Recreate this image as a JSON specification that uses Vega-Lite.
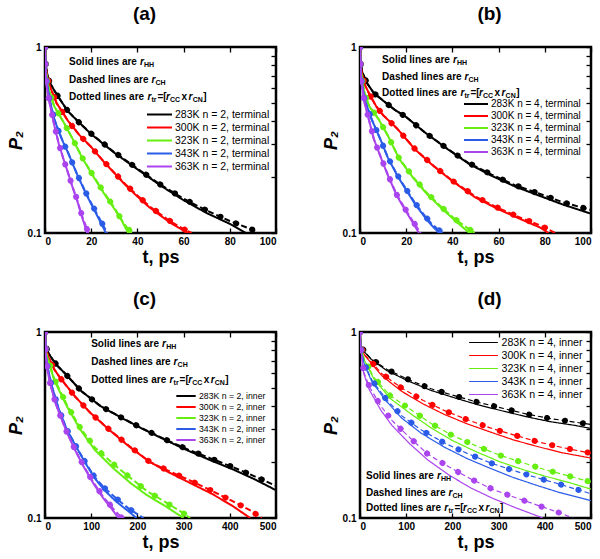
{
  "$schema": "https://vega.github.io/schema/vega-lite/v6.json",
  "padding": {"left": 5, "top": 3, "right": 5, "bottom": 2},
  "datasets": {
    "curves": [
      {"p":"a","T":"283K","s":"solid","t":0,"P":1},{"p":"a","T":"283K","s":"solid","t":0.3,"P":0.8},{"p":"a","T":"283K","s":"solid","t":1,"P":0.71},{"p":"a","T":"283K","s":"solid","t":2,"P":0.645},{"p":"a","T":"283K","s":"solid","t":5,"P":0.557},{"p":"a","T":"283K","s":"solid","t":10,"P":0.45},{"p":"a","T":"283K","s":"solid","t":15,"P":0.39},{"p":"a","T":"283K","s":"solid","t":20,"P":0.34},{"p":"a","T":"283K","s":"solid","t":30,"P":0.27},{"p":"a","T":"283K","s":"solid","t":40,"P":0.22},{"p":"a","T":"283K","s":"solid","t":50,"P":0.18},{"p":"a","T":"283K","s":"solid","t":60,"P":0.15},{"p":"a","T":"283K","s":"solid","t":70,"P":0.128},{"p":"a","T":"283K","s":"solid","t":80,"P":0.112},{"p":"a","T":"283K","s":"solid","t":87,"P":0.1},
      {"p":"a","T":"283K","s":"dashed","t":0,"P":1},{"p":"a","T":"283K","s":"dashed","t":0.3,"P":0.8},{"p":"a","T":"283K","s":"dashed","t":1,"P":0.71},{"p":"a","T":"283K","s":"dashed","t":2,"P":0.645},{"p":"a","T":"283K","s":"dashed","t":5,"P":0.557},{"p":"a","T":"283K","s":"dashed","t":10,"P":0.45},{"p":"a","T":"283K","s":"dashed","t":15,"P":0.39},{"p":"a","T":"283K","s":"dashed","t":20,"P":0.342},{"p":"a","T":"283K","s":"dashed","t":30,"P":0.272},{"p":"a","T":"283K","s":"dashed","t":40,"P":0.222},{"p":"a","T":"283K","s":"dashed","t":50,"P":0.182},{"p":"a","T":"283K","s":"dashed","t":60,"P":0.153},{"p":"a","T":"283K","s":"dashed","t":70,"P":0.132},{"p":"a","T":"283K","s":"dashed","t":80,"P":0.116},{"p":"a","T":"283K","s":"dashed","t":90,"P":0.104},{"p":"a","T":"283K","s":"dashed","t":92,"P":0.1},
      {"p":"a","T":"300K","s":"solid","t":0,"P":1},{"p":"a","T":"300K","s":"solid","t":0.3,"P":0.78},{"p":"a","T":"300K","s":"solid","t":1,"P":0.69},{"p":"a","T":"300K","s":"solid","t":2,"P":0.62},{"p":"a","T":"300K","s":"solid","t":5,"P":0.5},{"p":"a","T":"300K","s":"solid","t":10,"P":0.4},{"p":"a","T":"300K","s":"solid","t":15,"P":0.335},{"p":"a","T":"300K","s":"solid","t":20,"P":0.29},{"p":"a","T":"300K","s":"solid","t":25,"P":0.245},{"p":"a","T":"300K","s":"solid","t":30,"P":0.21},{"p":"a","T":"300K","s":"solid","t":35,"P":0.18},{"p":"a","T":"300K","s":"solid","t":40,"P":0.157},{"p":"a","T":"300K","s":"solid","t":45,"P":0.138},{"p":"a","T":"300K","s":"solid","t":50,"P":0.124},{"p":"a","T":"300K","s":"solid","t":55,"P":0.112},{"p":"a","T":"300K","s":"solid","t":62,"P":0.1},
      {"p":"a","T":"300K","s":"dashed","t":0,"P":1},{"p":"a","T":"300K","s":"dashed","t":0.3,"P":0.78},{"p":"a","T":"300K","s":"dashed","t":1,"P":0.69},{"p":"a","T":"300K","s":"dashed","t":2,"P":0.62},{"p":"a","T":"300K","s":"dashed","t":5,"P":0.5},{"p":"a","T":"300K","s":"dashed","t":10,"P":0.4},{"p":"a","T":"300K","s":"dashed","t":15,"P":0.335},{"p":"a","T":"300K","s":"dashed","t":20,"P":0.29},{"p":"a","T":"300K","s":"dashed","t":25,"P":0.246},{"p":"a","T":"300K","s":"dashed","t":30,"P":0.211},{"p":"a","T":"300K","s":"dashed","t":35,"P":0.182},{"p":"a","T":"300K","s":"dashed","t":40,"P":0.159},{"p":"a","T":"300K","s":"dashed","t":45,"P":0.14},{"p":"a","T":"300K","s":"dashed","t":50,"P":0.126},{"p":"a","T":"300K","s":"dashed","t":55,"P":0.114},{"p":"a","T":"300K","s":"dashed","t":60,"P":0.105},{"p":"a","T":"300K","s":"dashed","t":63.5,"P":0.1},
      {"p":"a","T":"323K","s":"solid","t":0,"P":1},{"p":"a","T":"323K","s":"solid","t":0.3,"P":0.76},{"p":"a","T":"323K","s":"solid","t":1,"P":0.65},{"p":"a","T":"323K","s":"solid","t":2,"P":0.57},{"p":"a","T":"323K","s":"solid","t":4,"P":0.48},{"p":"a","T":"323K","s":"solid","t":8,"P":0.395},{"p":"a","T":"323K","s":"solid","t":12,"P":0.32},{"p":"a","T":"323K","s":"solid","t":16,"P":0.255},{"p":"a","T":"323K","s":"solid","t":20,"P":0.21},{"p":"a","T":"323K","s":"solid","t":25,"P":0.167},{"p":"a","T":"323K","s":"solid","t":30,"P":0.135},{"p":"a","T":"323K","s":"solid","t":33,"P":0.118},{"p":"a","T":"323K","s":"solid","t":36,"P":0.1},
      {"p":"a","T":"323K","s":"dashed","t":0,"P":1},{"p":"a","T":"323K","s":"dashed","t":0.3,"P":0.76},{"p":"a","T":"323K","s":"dashed","t":1,"P":0.65},{"p":"a","T":"323K","s":"dashed","t":2,"P":0.57},{"p":"a","T":"323K","s":"dashed","t":4,"P":0.48},{"p":"a","T":"323K","s":"dashed","t":8,"P":0.395},{"p":"a","T":"323K","s":"dashed","t":12,"P":0.32},{"p":"a","T":"323K","s":"dashed","t":16,"P":0.256},{"p":"a","T":"323K","s":"dashed","t":20,"P":0.212},{"p":"a","T":"323K","s":"dashed","t":25,"P":0.169},{"p":"a","T":"323K","s":"dashed","t":30,"P":0.137},{"p":"a","T":"323K","s":"dashed","t":34,"P":0.113},{"p":"a","T":"323K","s":"dashed","t":37.5,"P":0.1},
      {"p":"a","T":"343K","s":"solid","t":0,"P":1},{"p":"a","T":"343K","s":"solid","t":0.3,"P":0.72},{"p":"a","T":"343K","s":"solid","t":1,"P":0.62},{"p":"a","T":"343K","s":"solid","t":2,"P":0.52},{"p":"a","T":"343K","s":"solid","t":4,"P":0.41},{"p":"a","T":"343K","s":"solid","t":6,"P":0.35},{"p":"a","T":"343K","s":"solid","t":8,"P":0.305},{"p":"a","T":"343K","s":"solid","t":10,"P":0.27},{"p":"a","T":"343K","s":"solid","t":14,"P":0.205},{"p":"a","T":"343K","s":"solid","t":18,"P":0.16},{"p":"a","T":"343K","s":"solid","t":22,"P":0.128},{"p":"a","T":"343K","s":"solid","t":26.4,"P":0.1},
      {"p":"a","T":"343K","s":"dashed","t":0,"P":1},{"p":"a","T":"343K","s":"dashed","t":0.3,"P":0.72},{"p":"a","T":"343K","s":"dashed","t":1,"P":0.62},{"p":"a","T":"343K","s":"dashed","t":2,"P":0.52},{"p":"a","T":"343K","s":"dashed","t":4,"P":0.41},{"p":"a","T":"343K","s":"dashed","t":6,"P":0.35},{"p":"a","T":"343K","s":"dashed","t":8,"P":0.305},{"p":"a","T":"343K","s":"dashed","t":10,"P":0.27},{"p":"a","T":"343K","s":"dashed","t":14,"P":0.206},{"p":"a","T":"343K","s":"dashed","t":18,"P":0.162},{"p":"a","T":"343K","s":"dashed","t":22,"P":0.13},{"p":"a","T":"343K","s":"dashed","t":27,"P":0.1},
      {"p":"a","T":"363K","s":"solid","t":0,"P":1},{"p":"a","T":"363K","s":"solid","t":0.3,"P":0.68},{"p":"a","T":"363K","s":"solid","t":1,"P":0.58},{"p":"a","T":"363K","s":"solid","t":2,"P":0.5},{"p":"a","T":"363K","s":"solid","t":4,"P":0.38},{"p":"a","T":"363K","s":"solid","t":6,"P":0.3},{"p":"a","T":"363K","s":"solid","t":8,"P":0.25},{"p":"a","T":"363K","s":"solid","t":10,"P":0.21},{"p":"a","T":"363K","s":"solid","t":12,"P":0.175},{"p":"a","T":"363K","s":"solid","t":14,"P":0.148},{"p":"a","T":"363K","s":"solid","t":16,"P":0.122},{"p":"a","T":"363K","s":"solid","t":18.3,"P":0.1},
      {"p":"a","T":"363K","s":"dashed","t":0,"P":1},{"p":"a","T":"363K","s":"dashed","t":0.3,"P":0.68},{"p":"a","T":"363K","s":"dashed","t":1,"P":0.58},{"p":"a","T":"363K","s":"dashed","t":2,"P":0.5},{"p":"a","T":"363K","s":"dashed","t":4,"P":0.38},{"p":"a","T":"363K","s":"dashed","t":6,"P":0.3},{"p":"a","T":"363K","s":"dashed","t":8,"P":0.25},{"p":"a","T":"363K","s":"dashed","t":10,"P":0.21},{"p":"a","T":"363K","s":"dashed","t":12,"P":0.176},{"p":"a","T":"363K","s":"dashed","t":14,"P":0.15},{"p":"a","T":"363K","s":"dashed","t":16,"P":0.124},{"p":"a","T":"363K","s":"dashed","t":18.8,"P":0.1},

      {"p":"b","T":"283K","s":"solid","t":0,"P":1},{"p":"b","T":"283K","s":"solid","t":0.3,"P":0.82},{"p":"b","T":"283K","s":"solid","t":1,"P":0.73},{"p":"b","T":"283K","s":"solid","t":3,"P":0.64},{"p":"b","T":"283K","s":"solid","t":6,"P":0.565},{"p":"b","T":"283K","s":"solid","t":10,"P":0.515},{"p":"b","T":"283K","s":"solid","t":15,"P":0.46},{"p":"b","T":"283K","s":"solid","t":20,"P":0.42},{"p":"b","T":"283K","s":"solid","t":28,"P":0.348},{"p":"b","T":"283K","s":"solid","t":38,"P":0.282},{"p":"b","T":"283K","s":"solid","t":47,"P":0.236},{"p":"b","T":"283K","s":"solid","t":57,"P":0.203},{"p":"b","T":"283K","s":"solid","t":67,"P":0.178},{"p":"b","T":"283K","s":"solid","t":78,"P":0.158},{"p":"b","T":"283K","s":"solid","t":88,"P":0.142},{"p":"b","T":"283K","s":"solid","t":100,"P":0.127},
      {"p":"b","T":"283K","s":"dashed","t":0,"P":1},{"p":"b","T":"283K","s":"dashed","t":0.3,"P":0.82},{"p":"b","T":"283K","s":"dashed","t":1,"P":0.73},{"p":"b","T":"283K","s":"dashed","t":3,"P":0.64},{"p":"b","T":"283K","s":"dashed","t":6,"P":0.565},{"p":"b","T":"283K","s":"dashed","t":10,"P":0.515},{"p":"b","T":"283K","s":"dashed","t":15,"P":0.46},{"p":"b","T":"283K","s":"dashed","t":20,"P":0.42},{"p":"b","T":"283K","s":"dashed","t":28,"P":0.348},{"p":"b","T":"283K","s":"dashed","t":38,"P":0.283},{"p":"b","T":"283K","s":"dashed","t":47,"P":0.238},{"p":"b","T":"283K","s":"dashed","t":57,"P":0.206},{"p":"b","T":"283K","s":"dashed","t":67,"P":0.181},{"p":"b","T":"283K","s":"dashed","t":78,"P":0.162},{"p":"b","T":"283K","s":"dashed","t":88,"P":0.146},{"p":"b","T":"283K","s":"dashed","t":100,"P":0.133},
      {"p":"b","T":"300K","s":"solid","t":0,"P":1},{"p":"b","T":"300K","s":"solid","t":0.3,"P":0.79},{"p":"b","T":"300K","s":"solid","t":1,"P":0.7},{"p":"b","T":"300K","s":"solid","t":2,"P":0.63},{"p":"b","T":"300K","s":"solid","t":4,"P":0.56},{"p":"b","T":"300K","s":"solid","t":7,"P":0.48},{"p":"b","T":"300K","s":"solid","t":10,"P":0.43},{"p":"b","T":"300K","s":"solid","t":16,"P":0.365},{"p":"b","T":"300K","s":"solid","t":24,"P":0.28},{"p":"b","T":"300K","s":"solid","t":32,"P":0.228},{"p":"b","T":"300K","s":"solid","t":40,"P":0.19},{"p":"b","T":"300K","s":"solid","t":50,"P":0.155},{"p":"b","T":"300K","s":"solid","t":60,"P":0.134},{"p":"b","T":"300K","s":"solid","t":70,"P":0.118},{"p":"b","T":"300K","s":"solid","t":78,"P":0.107},{"p":"b","T":"300K","s":"solid","t":81.6,"P":0.1},
      {"p":"b","T":"300K","s":"dashed","t":0,"P":1},{"p":"b","T":"300K","s":"dashed","t":0.3,"P":0.79},{"p":"b","T":"300K","s":"dashed","t":1,"P":0.7},{"p":"b","T":"300K","s":"dashed","t":2,"P":0.63},{"p":"b","T":"300K","s":"dashed","t":4,"P":0.56},{"p":"b","T":"300K","s":"dashed","t":7,"P":0.48},{"p":"b","T":"300K","s":"dashed","t":10,"P":0.43},{"p":"b","T":"300K","s":"dashed","t":16,"P":0.365},{"p":"b","T":"300K","s":"dashed","t":24,"P":0.281},{"p":"b","T":"300K","s":"dashed","t":32,"P":0.229},{"p":"b","T":"300K","s":"dashed","t":40,"P":0.191},{"p":"b","T":"300K","s":"dashed","t":50,"P":0.157},{"p":"b","T":"300K","s":"dashed","t":60,"P":0.136},{"p":"b","T":"300K","s":"dashed","t":70,"P":0.12},{"p":"b","T":"300K","s":"dashed","t":78,"P":0.11},{"p":"b","T":"300K","s":"dashed","t":84.5,"P":0.1},
      {"p":"b","T":"323K","s":"solid","t":0,"P":1},{"p":"b","T":"323K","s":"solid","t":0.3,"P":0.75},{"p":"b","T":"323K","s":"solid","t":1,"P":0.66},{"p":"b","T":"323K","s":"solid","t":2,"P":0.56},{"p":"b","T":"323K","s":"solid","t":4,"P":0.48},{"p":"b","T":"323K","s":"solid","t":8,"P":0.41},{"p":"b","T":"323K","s":"solid","t":12,"P":0.335},{"p":"b","T":"323K","s":"solid","t":17,"P":0.25},{"p":"b","T":"323K","s":"solid","t":23,"P":0.198},{"p":"b","T":"323K","s":"solid","t":29,"P":0.162},{"p":"b","T":"323K","s":"solid","t":35,"P":0.137},{"p":"b","T":"323K","s":"solid","t":41,"P":0.117},{"p":"b","T":"323K","s":"solid","t":47.4,"P":0.1},
      {"p":"b","T":"323K","s":"dashed","t":0,"P":1},{"p":"b","T":"323K","s":"dashed","t":0.3,"P":0.75},{"p":"b","T":"323K","s":"dashed","t":1,"P":0.66},{"p":"b","T":"323K","s":"dashed","t":2,"P":0.56},{"p":"b","T":"323K","s":"dashed","t":4,"P":0.48},{"p":"b","T":"323K","s":"dashed","t":8,"P":0.41},{"p":"b","T":"323K","s":"dashed","t":12,"P":0.335},{"p":"b","T":"323K","s":"dashed","t":17,"P":0.251},{"p":"b","T":"323K","s":"dashed","t":23,"P":0.2},{"p":"b","T":"323K","s":"dashed","t":29,"P":0.164},{"p":"b","T":"323K","s":"dashed","t":35,"P":0.139},{"p":"b","T":"323K","s":"dashed","t":41,"P":0.119},{"p":"b","T":"323K","s":"dashed","t":49.6,"P":0.1},
      {"p":"b","T":"343K","s":"solid","t":0,"P":1},{"p":"b","T":"343K","s":"solid","t":0.3,"P":0.72},{"p":"b","T":"343K","s":"solid","t":1,"P":0.62},{"p":"b","T":"343K","s":"solid","t":2,"P":0.52},{"p":"b","T":"343K","s":"solid","t":5,"P":0.41},{"p":"b","T":"343K","s":"solid","t":9,"P":0.315},{"p":"b","T":"343K","s":"solid","t":12,"P":0.255},{"p":"b","T":"343K","s":"solid","t":16,"P":0.205},{"p":"b","T":"343K","s":"solid","t":20,"P":0.17},{"p":"b","T":"343K","s":"solid","t":24,"P":0.142},{"p":"b","T":"343K","s":"solid","t":28,"P":0.122},{"p":"b","T":"343K","s":"solid","t":31,"P":0.11},{"p":"b","T":"343K","s":"solid","t":34.3,"P":0.1},
      {"p":"b","T":"343K","s":"dashed","t":0,"P":1},{"p":"b","T":"343K","s":"dashed","t":0.3,"P":0.72},{"p":"b","T":"343K","s":"dashed","t":1,"P":0.62},{"p":"b","T":"343K","s":"dashed","t":2,"P":0.52},{"p":"b","T":"343K","s":"dashed","t":5,"P":0.41},{"p":"b","T":"343K","s":"dashed","t":9,"P":0.315},{"p":"b","T":"343K","s":"dashed","t":12,"P":0.256},{"p":"b","T":"343K","s":"dashed","t":16,"P":0.207},{"p":"b","T":"343K","s":"dashed","t":20,"P":0.172},{"p":"b","T":"343K","s":"dashed","t":24,"P":0.144},{"p":"b","T":"343K","s":"dashed","t":28,"P":0.124},{"p":"b","T":"343K","s":"dashed","t":31,"P":0.112},{"p":"b","T":"343K","s":"dashed","t":35.7,"P":0.1},
      {"p":"b","T":"363K","s":"solid","t":0,"P":1},{"p":"b","T":"363K","s":"solid","t":0.3,"P":0.68},{"p":"b","T":"363K","s":"solid","t":1,"P":0.6},{"p":"b","T":"363K","s":"solid","t":2,"P":0.5},{"p":"b","T":"363K","s":"solid","t":4,"P":0.4},{"p":"b","T":"363K","s":"solid","t":6,"P":0.32},{"p":"b","T":"363K","s":"solid","t":9,"P":0.255},{"p":"b","T":"363K","s":"solid","t":12,"P":0.205},{"p":"b","T":"363K","s":"solid","t":16,"P":0.158},{"p":"b","T":"363K","s":"solid","t":20,"P":0.13},{"p":"b","T":"363K","s":"solid","t":23,"P":0.113},{"p":"b","T":"363K","s":"solid","t":25.5,"P":0.1},
      {"p":"b","T":"363K","s":"dashed","t":0,"P":1},{"p":"b","T":"363K","s":"dashed","t":0.3,"P":0.68},{"p":"b","T":"363K","s":"dashed","t":1,"P":0.6},{"p":"b","T":"363K","s":"dashed","t":2,"P":0.5},{"p":"b","T":"363K","s":"dashed","t":4,"P":0.4},{"p":"b","T":"363K","s":"dashed","t":6,"P":0.32},{"p":"b","T":"363K","s":"dashed","t":9,"P":0.256},{"p":"b","T":"363K","s":"dashed","t":12,"P":0.207},{"p":"b","T":"363K","s":"dashed","t":16,"P":0.16},{"p":"b","T":"363K","s":"dashed","t":20,"P":0.132},{"p":"b","T":"363K","s":"dashed","t":23,"P":0.115},{"p":"b","T":"363K","s":"dashed","t":26.3,"P":0.1},

      {"p":"c","T":"283K","s":"solid","t":0,"P":1},{"p":"c","T":"283K","s":"solid","t":2,"P":0.84},{"p":"c","T":"283K","s":"solid","t":6,"P":0.78},{"p":"c","T":"283K","s":"solid","t":15,"P":0.72},{"p":"c","T":"283K","s":"solid","t":25,"P":0.665},{"p":"c","T":"283K","s":"solid","t":43,"P":0.6},{"p":"c","T":"283K","s":"solid","t":79,"P":0.48},{"p":"c","T":"283K","s":"solid","t":120,"P":0.4},{"p":"c","T":"283K","s":"solid","t":166,"P":0.345},{"p":"c","T":"283K","s":"solid","t":213,"P":0.3},{"p":"c","T":"283K","s":"solid","t":267,"P":0.258},{"p":"c","T":"283K","s":"solid","t":310,"P":0.23},{"p":"c","T":"283K","s":"solid","t":357,"P":0.205},{"p":"c","T":"283K","s":"solid","t":408,"P":0.182},{"p":"c","T":"283K","s":"solid","t":455,"P":0.161},{"p":"c","T":"283K","s":"solid","t":500,"P":0.141},
      {"p":"c","T":"283K","s":"dashed","t":0,"P":1},{"p":"c","T":"283K","s":"dashed","t":2,"P":0.84},{"p":"c","T":"283K","s":"dashed","t":6,"P":0.78},{"p":"c","T":"283K","s":"dashed","t":15,"P":0.72},{"p":"c","T":"283K","s":"dashed","t":25,"P":0.665},{"p":"c","T":"283K","s":"dashed","t":43,"P":0.6},{"p":"c","T":"283K","s":"dashed","t":79,"P":0.48},{"p":"c","T":"283K","s":"dashed","t":120,"P":0.4},{"p":"c","T":"283K","s":"dashed","t":166,"P":0.346},{"p":"c","T":"283K","s":"dashed","t":213,"P":0.301},{"p":"c","T":"283K","s":"dashed","t":267,"P":0.26},{"p":"c","T":"283K","s":"dashed","t":310,"P":0.233},{"p":"c","T":"283K","s":"dashed","t":357,"P":0.21},{"p":"c","T":"283K","s":"dashed","t":408,"P":0.187},{"p":"c","T":"283K","s":"dashed","t":455,"P":0.167},{"p":"c","T":"283K","s":"dashed","t":500,"P":0.149},
      {"p":"c","T":"300K","s":"solid","t":0,"P":1},{"p":"c","T":"300K","s":"solid","t":2,"P":0.8},{"p":"c","T":"300K","s":"solid","t":8,"P":0.73},{"p":"c","T":"300K","s":"solid","t":20,"P":0.63},{"p":"c","T":"300K","s":"solid","t":32,"P":0.57},{"p":"c","T":"300K","s":"solid","t":65,"P":0.45},{"p":"c","T":"300K","s":"solid","t":97,"P":0.37},{"p":"c","T":"300K","s":"solid","t":141,"P":0.295},{"p":"c","T":"300K","s":"solid","t":184,"P":0.24},{"p":"c","T":"300K","s":"solid","t":227,"P":0.2},{"p":"c","T":"300K","s":"solid","t":270,"P":0.175},{"p":"c","T":"300K","s":"solid","t":317,"P":0.153},{"p":"c","T":"300K","s":"solid","t":361,"P":0.135},{"p":"c","T":"300K","s":"solid","t":404,"P":0.117},{"p":"c","T":"300K","s":"solid","t":444,"P":0.1},
      {"p":"c","T":"300K","s":"dashed","t":0,"P":1},{"p":"c","T":"300K","s":"dashed","t":2,"P":0.8},{"p":"c","T":"300K","s":"dashed","t":8,"P":0.73},{"p":"c","T":"300K","s":"dashed","t":20,"P":0.63},{"p":"c","T":"300K","s":"dashed","t":32,"P":0.57},{"p":"c","T":"300K","s":"dashed","t":65,"P":0.45},{"p":"c","T":"300K","s":"dashed","t":97,"P":0.37},{"p":"c","T":"300K","s":"dashed","t":141,"P":0.296},{"p":"c","T":"300K","s":"dashed","t":184,"P":0.242},{"p":"c","T":"300K","s":"dashed","t":227,"P":0.2},{"p":"c","T":"300K","s":"dashed","t":270,"P":0.178},{"p":"c","T":"300K","s":"dashed","t":317,"P":0.158},{"p":"c","T":"300K","s":"dashed","t":361,"P":0.14},{"p":"c","T":"300K","s":"dashed","t":404,"P":0.124},{"p":"c","T":"300K","s":"dashed","t":447,"P":0.109},{"p":"c","T":"300K","s":"dashed","t":469,"P":0.1},
      {"p":"c","T":"323K","s":"solid","t":0,"P":1},{"p":"c","T":"323K","s":"solid","t":2,"P":0.78},{"p":"c","T":"323K","s":"solid","t":8,"P":0.69},{"p":"c","T":"323K","s":"solid","t":20,"P":0.55},{"p":"c","T":"323K","s":"solid","t":47,"P":0.4},{"p":"c","T":"323K","s":"solid","t":76,"P":0.3},{"p":"c","T":"323K","s":"solid","t":108,"P":0.232},{"p":"c","T":"323K","s":"solid","t":148,"P":0.185},{"p":"c","T":"323K","s":"solid","t":184,"P":0.155},{"p":"c","T":"323K","s":"solid","t":220,"P":0.133},{"p":"c","T":"323K","s":"solid","t":260,"P":0.116},{"p":"c","T":"323K","s":"solid","t":300,"P":0.1},
      {"p":"c","T":"323K","s":"dashed","t":0,"P":1},{"p":"c","T":"323K","s":"dashed","t":2,"P":0.78},{"p":"c","T":"323K","s":"dashed","t":8,"P":0.7},{"p":"c","T":"323K","s":"dashed","t":20,"P":0.56},{"p":"c","T":"323K","s":"dashed","t":47,"P":0.408},{"p":"c","T":"323K","s":"dashed","t":76,"P":0.306},{"p":"c","T":"323K","s":"dashed","t":108,"P":0.239},{"p":"c","T":"323K","s":"dashed","t":148,"P":0.195},{"p":"c","T":"323K","s":"dashed","t":184,"P":0.165},{"p":"c","T":"323K","s":"dashed","t":220,"P":0.14},{"p":"c","T":"323K","s":"dashed","t":260,"P":0.122},{"p":"c","T":"323K","s":"dashed","t":300,"P":0.106},{"p":"c","T":"323K","s":"dashed","t":314,"P":0.1},
      {"p":"c","T":"343K","s":"solid","t":0,"P":1},{"p":"c","T":"343K","s":"solid","t":2,"P":0.75},{"p":"c","T":"343K","s":"solid","t":6,"P":0.64},{"p":"c","T":"343K","s":"solid","t":14,"P":0.52},{"p":"c","T":"343K","s":"solid","t":29,"P":0.39},{"p":"c","T":"343K","s":"solid","t":47,"P":0.3},{"p":"c","T":"343K","s":"solid","t":68,"P":0.24},{"p":"c","T":"343K","s":"solid","t":87,"P":0.198},{"p":"c","T":"343K","s":"solid","t":108,"P":0.163},{"p":"c","T":"343K","s":"solid","t":130,"P":0.14},{"p":"c","T":"343K","s":"solid","t":155,"P":0.122},{"p":"c","T":"343K","s":"solid","t":180,"P":0.109},{"p":"c","T":"343K","s":"solid","t":198,"P":0.1},
      {"p":"c","T":"343K","s":"dashed","t":0,"P":1},{"p":"c","T":"343K","s":"dashed","t":2,"P":0.75},{"p":"c","T":"343K","s":"dashed","t":6,"P":0.64},{"p":"c","T":"343K","s":"dashed","t":14,"P":0.52},{"p":"c","T":"343K","s":"dashed","t":29,"P":0.39},{"p":"c","T":"343K","s":"dashed","t":47,"P":0.3},{"p":"c","T":"343K","s":"dashed","t":68,"P":0.241},{"p":"c","T":"343K","s":"dashed","t":87,"P":0.2},{"p":"c","T":"343K","s":"dashed","t":108,"P":0.165},{"p":"c","T":"343K","s":"dashed","t":130,"P":0.144},{"p":"c","T":"343K","s":"dashed","t":155,"P":0.127},{"p":"c","T":"343K","s":"dashed","t":180,"P":0.113},{"p":"c","T":"343K","s":"dashed","t":213,"P":0.1},
      {"p":"c","T":"363K","s":"solid","t":0,"P":1},{"p":"c","T":"363K","s":"solid","t":2,"P":0.74},{"p":"c","T":"363K","s":"solid","t":5,"P":0.63},{"p":"c","T":"363K","s":"solid","t":11,"P":0.53},{"p":"c","T":"363K","s":"solid","t":22,"P":0.42},{"p":"c","T":"363K","s":"solid","t":32,"P":0.36},{"p":"c","T":"363K","s":"solid","t":47,"P":0.29},{"p":"c","T":"363K","s":"solid","t":65,"P":0.232},{"p":"c","T":"363K","s":"solid","t":83,"P":0.19},{"p":"c","T":"363K","s":"solid","t":105,"P":0.153},{"p":"c","T":"363K","s":"solid","t":126,"P":0.128},{"p":"c","T":"363K","s":"solid","t":148,"P":0.109},{"p":"c","T":"363K","s":"solid","t":159,"P":0.1},
      {"p":"c","T":"363K","s":"dashed","t":0,"P":1},{"p":"c","T":"363K","s":"dashed","t":2,"P":0.74},{"p":"c","T":"363K","s":"dashed","t":5,"P":0.63},{"p":"c","T":"363K","s":"dashed","t":11,"P":0.53},{"p":"c","T":"363K","s":"dashed","t":22,"P":0.42},{"p":"c","T":"363K","s":"dashed","t":32,"P":0.36},{"p":"c","T":"363K","s":"dashed","t":47,"P":0.29},{"p":"c","T":"363K","s":"dashed","t":65,"P":0.233},{"p":"c","T":"363K","s":"dashed","t":83,"P":0.192},{"p":"c","T":"363K","s":"dashed","t":105,"P":0.155},{"p":"c","T":"363K","s":"dashed","t":126,"P":0.13},{"p":"c","T":"363K","s":"dashed","t":148,"P":0.112},{"p":"c","T":"363K","s":"dashed","t":166,"P":0.1},

      {"p":"d","T":"283K","s":"solid","t":0,"P":1},{"p":"d","T":"283K","s":"solid","t":3,"P":0.84},{"p":"d","T":"283K","s":"solid","t":10,"P":0.78},{"p":"d","T":"283K","s":"solid","t":25,"P":0.71},{"p":"d","T":"283K","s":"solid","t":58,"P":0.62},{"p":"d","T":"283K","s":"solid","t":108,"P":0.54},{"p":"d","T":"283K","s":"solid","t":154,"P":0.485},{"p":"d","T":"283K","s":"solid","t":208,"P":0.44},{"p":"d","T":"283K","s":"solid","t":257,"P":0.405},{"p":"d","T":"283K","s":"solid","t":311,"P":0.375},{"p":"d","T":"283K","s":"solid","t":361,"P":0.35},{"p":"d","T":"283K","s":"solid","t":410,"P":0.33},{"p":"d","T":"283K","s":"solid","t":464,"P":0.315},{"p":"d","T":"283K","s":"solid","t":500,"P":0.303},
      {"p":"d","T":"283K","s":"dashed","t":0,"P":1},{"p":"d","T":"283K","s":"dashed","t":3,"P":0.84},{"p":"d","T":"283K","s":"dashed","t":10,"P":0.78},{"p":"d","T":"283K","s":"dashed","t":25,"P":0.715},{"p":"d","T":"283K","s":"dashed","t":58,"P":0.63},{"p":"d","T":"283K","s":"dashed","t":108,"P":0.55},{"p":"d","T":"283K","s":"dashed","t":154,"P":0.495},{"p":"d","T":"283K","s":"dashed","t":208,"P":0.452},{"p":"d","T":"283K","s":"dashed","t":257,"P":0.418},{"p":"d","T":"283K","s":"dashed","t":311,"P":0.388},{"p":"d","T":"283K","s":"dashed","t":361,"P":0.362},{"p":"d","T":"283K","s":"dashed","t":410,"P":0.343},{"p":"d","T":"283K","s":"dashed","t":464,"P":0.328},{"p":"d","T":"283K","s":"dashed","t":500,"P":0.318},
      {"p":"d","T":"300K","s":"solid","t":0,"P":1},{"p":"d","T":"300K","s":"solid","t":3,"P":0.82},{"p":"d","T":"300K","s":"solid","t":10,"P":0.75},{"p":"d","T":"300K","s":"solid","t":20,"P":0.7},{"p":"d","T":"300K","s":"solid","t":48,"P":0.58},{"p":"d","T":"300K","s":"solid","t":90,"P":0.48},{"p":"d","T":"300K","s":"solid","t":137,"P":0.41},{"p":"d","T":"300K","s":"solid","t":183,"P":0.36},{"p":"d","T":"300K","s":"solid","t":233,"P":0.32},{"p":"d","T":"300K","s":"solid","t":282,"P":0.29},{"p":"d","T":"300K","s":"solid","t":332,"P":0.263},{"p":"d","T":"300K","s":"solid","t":382,"P":0.243},{"p":"d","T":"300K","s":"solid","t":435,"P":0.225},{"p":"d","T":"300K","s":"solid","t":500,"P":0.21},
      {"p":"d","T":"300K","s":"dashed","t":0,"P":1},{"p":"d","T":"300K","s":"dashed","t":3,"P":0.82},{"p":"d","T":"300K","s":"dashed","t":10,"P":0.755},{"p":"d","T":"300K","s":"dashed","t":20,"P":0.71},{"p":"d","T":"300K","s":"dashed","t":48,"P":0.595},{"p":"d","T":"300K","s":"dashed","t":90,"P":0.5},{"p":"d","T":"300K","s":"dashed","t":137,"P":0.428},{"p":"d","T":"300K","s":"dashed","t":183,"P":0.378},{"p":"d","T":"300K","s":"dashed","t":233,"P":0.337},{"p":"d","T":"300K","s":"dashed","t":282,"P":0.305},{"p":"d","T":"300K","s":"dashed","t":332,"P":0.28},{"p":"d","T":"300K","s":"dashed","t":382,"P":0.258},{"p":"d","T":"300K","s":"dashed","t":435,"P":0.24},{"p":"d","T":"300K","s":"dashed","t":500,"P":0.223},
      {"p":"d","T":"323K","s":"solid","t":0,"P":1},{"p":"d","T":"323K","s":"solid","t":3,"P":0.8},{"p":"d","T":"323K","s":"solid","t":10,"P":0.7},{"p":"d","T":"323K","s":"solid","t":30,"P":0.56},{"p":"d","T":"323K","s":"solid","t":65,"P":0.44},{"p":"d","T":"323K","s":"solid","t":112,"P":0.36},{"p":"d","T":"323K","s":"solid","t":154,"P":0.305},{"p":"d","T":"323K","s":"solid","t":201,"P":0.26},{"p":"d","T":"323K","s":"solid","t":250,"P":0.228},{"p":"d","T":"323K","s":"solid","t":304,"P":0.2},{"p":"d","T":"323K","s":"solid","t":353,"P":0.182},{"p":"d","T":"323K","s":"solid","t":400,"P":0.168},{"p":"d","T":"323K","s":"solid","t":453,"P":0.155},{"p":"d","T":"323K","s":"solid","t":500,"P":0.143},
      {"p":"d","T":"323K","s":"dashed","t":0,"P":1},{"p":"d","T":"323K","s":"dashed","t":3,"P":0.8},{"p":"d","T":"323K","s":"dashed","t":10,"P":0.71},{"p":"d","T":"323K","s":"dashed","t":30,"P":0.57},{"p":"d","T":"323K","s":"dashed","t":65,"P":0.455},{"p":"d","T":"323K","s":"dashed","t":112,"P":0.38},{"p":"d","T":"323K","s":"dashed","t":154,"P":0.322},{"p":"d","T":"323K","s":"dashed","t":201,"P":0.277},{"p":"d","T":"323K","s":"dashed","t":250,"P":0.245},{"p":"d","T":"323K","s":"dashed","t":304,"P":0.217},{"p":"d","T":"323K","s":"dashed","t":353,"P":0.198},{"p":"d","T":"323K","s":"dashed","t":400,"P":0.182},{"p":"d","T":"323K","s":"dashed","t":453,"P":0.168},{"p":"d","T":"323K","s":"dashed","t":500,"P":0.156},
      {"p":"d","T":"343K","s":"solid","t":0,"P":1},{"p":"d","T":"343K","s":"solid","t":3,"P":0.78},{"p":"d","T":"343K","s":"solid","t":10,"P":0.66},{"p":"d","T":"343K","s":"solid","t":26,"P":0.54},{"p":"d","T":"343K","s":"solid","t":55,"P":0.43},{"p":"d","T":"343K","s":"solid","t":90,"P":0.345},{"p":"d","T":"343K","s":"solid","t":133,"P":0.285},{"p":"d","T":"343K","s":"solid","t":183,"P":0.24},{"p":"d","T":"343K","s":"solid","t":233,"P":0.208},{"p":"d","T":"343K","s":"solid","t":282,"P":0.185},{"p":"d","T":"343K","s":"solid","t":332,"P":0.165},{"p":"d","T":"343K","s":"solid","t":382,"P":0.15},{"p":"d","T":"343K","s":"solid","t":432,"P":0.137},{"p":"d","T":"343K","s":"solid","t":500,"P":0.124},
      {"p":"d","T":"343K","s":"dashed","t":0,"P":1},{"p":"d","T":"343K","s":"dashed","t":3,"P":0.78},{"p":"d","T":"343K","s":"dashed","t":10,"P":0.67},{"p":"d","T":"343K","s":"dashed","t":26,"P":0.55},{"p":"d","T":"343K","s":"dashed","t":55,"P":0.44},{"p":"d","T":"343K","s":"dashed","t":90,"P":0.355},{"p":"d","T":"343K","s":"dashed","t":133,"P":0.297},{"p":"d","T":"343K","s":"dashed","t":183,"P":0.253},{"p":"d","T":"343K","s":"dashed","t":233,"P":0.222},{"p":"d","T":"343K","s":"dashed","t":282,"P":0.198},{"p":"d","T":"343K","s":"dashed","t":332,"P":0.18},{"p":"d","T":"343K","s":"dashed","t":382,"P":0.165},{"p":"d","T":"343K","s":"dashed","t":432,"P":0.152},{"p":"d","T":"343K","s":"dashed","t":500,"P":0.135},
      {"p":"d","T":"363K","s":"solid","t":0,"P":1},{"p":"d","T":"363K","s":"solid","t":2,"P":0.8},{"p":"d","T":"363K","s":"solid","t":8,"P":0.6},{"p":"d","T":"363K","s":"solid","t":20,"P":0.49},{"p":"d","T":"363K","s":"solid","t":45,"P":0.38},{"p":"d","T":"363K","s":"solid","t":69,"P":0.315},{"p":"d","T":"363K","s":"solid","t":108,"P":0.25},{"p":"d","T":"363K","s":"solid","t":147,"P":0.205},{"p":"d","T":"363K","s":"solid","t":193,"P":0.17},{"p":"d","T":"363K","s":"solid","t":240,"P":0.145},{"p":"d","T":"363K","s":"solid","t":289,"P":0.127},{"p":"d","T":"363K","s":"solid","t":339,"P":0.113},{"p":"d","T":"363K","s":"solid","t":396,"P":0.1},
      {"p":"d","T":"363K","s":"dashed","t":0,"P":1},{"p":"d","T":"363K","s":"dashed","t":2,"P":0.8},{"p":"d","T":"363K","s":"dashed","t":8,"P":0.61},{"p":"d","T":"363K","s":"dashed","t":20,"P":0.51},{"p":"d","T":"363K","s":"dashed","t":45,"P":0.4},{"p":"d","T":"363K","s":"dashed","t":69,"P":0.335},{"p":"d","T":"363K","s":"dashed","t":108,"P":0.27},{"p":"d","T":"363K","s":"dashed","t":147,"P":0.22},{"p":"d","T":"363K","s":"dashed","t":193,"P":0.188},{"p":"d","T":"363K","s":"dashed","t":240,"P":0.162},{"p":"d","T":"363K","s":"dashed","t":289,"P":0.142},{"p":"d","T":"363K","s":"dashed","t":339,"P":0.128},{"p":"d","T":"363K","s":"dashed","t":385,"P":0.117},{"p":"d","T":"363K","s":"dashed","t":435,"P":0.106},{"p":"d","T":"363K","s":"dashed","t":460,"P":0.1}
    ],
    "annMain": [
      {"p":"a","t":10.43,"P":0.8305,"txt":"Solid lines are"},{"p":"a","t":10.43,"P":0.6647,"txt":"Dashed lines are"},{"p":"a","t":10.43,"P":0.5384,"txt":"Dotted lines are"},{"p":"a","t":48.7,"P":0.5384,"txt":"=["},{"p":"a","t":59.13,"P":0.5384,"txt":"x"},{"p":"a","t":68.48,"P":0.5384,"txt":"]"},
      {"p":"b","t":9.57,"P":0.851,"txt":"Solid lines are"},{"p":"b","t":9.57,"P":0.69,"txt":"Dashed lines are"},{"p":"b","t":9.57,"P":0.5658,"txt":"Dotted lines are"},{"p":"b","t":47.83,"P":0.5658,"txt":"=["},{"p":"b","t":58.26,"P":0.5658,"txt":"x"},{"p":"b","t":67.61,"P":0.5658,"txt":"]"},
      {"p":"c","t":100,"P":0.862,"txt":"Solid lines are"},{"p":"c","t":100,"P":0.69,"txt":"Dashed lines are"},{"p":"c","t":100,"P":0.552,"txt":"Dotted lines are"},{"p":"c","t":291.3,"P":0.552,"txt":"=["},{"p":"c","t":343.5,"P":0.552,"txt":"x"},{"p":"c","t":390.2,"P":0.552,"txt":"]"},
      {"p":"d","t":13,"P":0.1682,"txt":"Solid lines are"},{"p":"d","t":13,"P":0.1363,"txt":"Dashed lines are"},{"p":"d","t":13,"P":0.1132,"txt":"Dotted lines are"},{"p":"d","t":204.3,"P":0.1132,"txt":"=["},{"p":"d","t":256.5,"P":0.1132,"txt":"x"},{"p":"d","t":303.3,"P":0.1132,"txt":"]"}
    ],
    "annR": [
      {"p":"a","t":41.13,"P":0.8305},{"p":"a","t":46.09,"P":0.6647},{"p":"a","t":44.35,"P":0.5384},{"p":"a","t":52.39,"P":0.5384},{"p":"a","t":62.17,"P":0.5384},
      {"p":"b","t":40.26,"P":0.851},{"p":"b","t":45.22,"P":0.69},{"p":"b","t":43.48,"P":0.5658},{"p":"b","t":51.52,"P":0.5658},{"p":"b","t":61.3,"P":0.5658},
      {"p":"c","t":253.5,"P":0.862},{"p":"c","t":278.3,"P":0.69},{"p":"c","t":269.6,"P":0.552},{"p":"c","t":309.8,"P":0.552},{"p":"c","t":358.7,"P":0.552},
      {"p":"d","t":166.5,"P":0.1682},{"p":"d","t":191.3,"P":0.1363},{"p":"d","t":182.6,"P":0.1132},{"p":"d","t":222.8,"P":0.1132},{"p":"d","t":271.7,"P":0.1132}
    ],
    "annSub": [
      {"p":"a","t":42.87,"P":0.8305,"txt":"HH"},{"p":"a","t":47.83,"P":0.6647,"txt":"CH"},{"p":"a","t":46.09,"P":0.5384,"txt":"tr"},{"p":"a","t":54.13,"P":0.5384,"txt":"CC"},{"p":"a","t":63.91,"P":0.5384,"txt":"CN"},
      {"p":"b","t":42,"P":0.851,"txt":"HH"},{"p":"b","t":46.96,"P":0.69,"txt":"CH"},{"p":"b","t":45.22,"P":0.5658,"txt":"tr"},{"p":"b","t":53.26,"P":0.5658,"txt":"CC"},{"p":"b","t":63.04,"P":0.5658,"txt":"CN"},
      {"p":"c","t":262.2,"P":0.862,"txt":"HH"},{"p":"c","t":287,"P":0.69,"txt":"CH"},{"p":"c","t":278.3,"P":0.552,"txt":"tr"},{"p":"c","t":318.5,"P":0.552,"txt":"CC"},{"p":"c","t":367.4,"P":0.552,"txt":"CN"},
      {"p":"d","t":175.2,"P":0.1682,"txt":"HH"},{"p":"d","t":200,"P":0.1363,"txt":"CH"},{"p":"d","t":191.3,"P":0.1132,"txt":"tr"},{"p":"d","t":231.5,"P":0.1132,"txt":"CC"},{"p":"d","t":280.4,"P":0.1132,"txt":"CN"}
    ]
  },
  "config": {
    "font": "Liberation Sans",
    "view": {"stroke": "black", "strokeWidth": 2.5},
    "axis": {
      "domain": false, "grid": false, "tickColor": "black", "tickSize": -5, "tickWidth": 1.3,
      "labelFont": "Liberation Sans", "labelFontSize": 10, "labelFontWeight": "bold", "labelColor": "black",
      "labelPadding": 8, "labelOverlap": false,
      "titleFont": "Liberation Sans", "titleFontSize": 18, "titleFontWeight": "bold", "titleColor": "black", "titlePadding": 2
    },
    "title": {"font": "Liberation Sans", "fontSize": 19, "fontWeight": "bold", "color": "black", "offset": 18, "anchor": "middle"},
    "legend": {"title": null, "orient": "none", "labelFont": "Liberation Sans", "labelColor": "black", "padding": 0, "rowPadding": 0},
    "text": {"font": "Liberation Sans", "fontWeight": "bold", "color": "black", "align": "left", "baseline": "middle"}
  },
  "resolve": {"scale": {"color": "independent", "strokeDash": "independent"}, "legend": {"color": "independent"}},
  "spacing": 20,
  "vconcat": [
    {
      "spacing": 42,
      "resolve": {"scale": {"color": "independent", "strokeDash": "independent"}, "legend": {"color": "independent"}},
      "hconcat": [
        {
          "title": {"text": "(a)", "dx": -16},
          "width": 231, "height": 186,
          "resolve": {"axis": {"x": "independent", "y": "independent"}},
          "layer": [
            {
              "data": {"name": "curves"},
              "transform": [{"filter": "datum.p == 'a'"}],
              "mark": {"type": "line", "clip": true, "strokeWidth": 2},
              "encoding": {
                "x": {"field": "t", "type": "quantitative", "scale": {"domain": [0, 100], "nice": false}, "axis": {"orient": "bottom", "values": [0, 20, 40, 60, 80, 100], "title": "t, ps"}},
                "y": {"field": "P", "type": "quantitative", "scale": {"type": "log", "domain": [0.1, 1], "nice": false}, "axis": {"orient": "left", "ticks": false, "labelPadding": 4, "values": [0.1, 1], "labelExpr": "datum.value == 1 ? '1' : '0.1'", "title": "P₂", "titleFontStyle": "italic"}},
                "color": {"field": "T", "type": "nominal", "scale": {"domain": ["283K", "300K", "323K", "343K", "363K"], "range": ["#000000", "#ff0000", "#66ee11", "#2b5ce8", "#aa44ee"]}, "legend": {"legendX": 107, "legendY": 60, "symbolType": "M-2,0L2,0", "symbolSize": 156, "symbolStrokeWidth": 2, "labelOffset": 8, "labelFontSize": 10.5, "labelExpr": "datum.label + ' n = 2, terminal'"}},
                "strokeDash": {"field": "s", "type": "nominal", "scale": {"domain": ["solid", "dashed"], "range": [[1, 0], [6, 3]]}, "legend": null}
              }
            },
            {
              "data": {"name": "curves"},
              "transform": [{"filter": "datum.p == 'a' && datum.s == 'dashed'"}],
              "mark": {"type": "line", "clip": true, "strokeWidth": 6, "strokeCap": "round", "strokeDash": [0.1, 17]},
              "encoding": {
                "x": {"field": "t", "type": "quantitative", "axis": {"orient": "top", "values": [0, 20, 40, 60, 80, 100], "labels": false, "title": null}},
                "y": {"field": "P", "type": "quantitative", "axis": {"orient": "right", "values": [0.1, 0.2, 0.3, 0.4, 0.5, 0.6, 0.7, 0.8, 0.9, 1], "labels": false, "title": null}},
                "color": {"field": "T", "type": "nominal", "legend": null}
              }
            },
            {
              "data": {"name": "annMain"}, "transform": [{"filter": "datum.p == 'a'"}],
              "mark": {"type": "text", "fontSize": 10},
              "encoding": {"x": {"field": "t", "type": "quantitative", "axis": null}, "y": {"field": "P", "type": "quantitative", "axis": null}, "text": {"field": "txt"}}
            },
            {
              "data": {"name": "annR"}, "transform": [{"filter": "datum.p == 'a'"}],
              "mark": {"type": "text", "fontSize": 10, "fontStyle": "italic", "text": "r"},
              "encoding": {"x": {"field": "t", "type": "quantitative", "axis": null}, "y": {"field": "P", "type": "quantitative", "axis": null}}
            },
            {
              "data": {"name": "annSub"}, "transform": [{"filter": "datum.p == 'a'"}],
              "mark": {"type": "text", "fontSize": 7, "dy": 3},
              "encoding": {"x": {"field": "t", "type": "quantitative", "axis": null}, "y": {"field": "P", "type": "quantitative", "axis": null}, "text": {"field": "txt"}}
            }
          ]
        },
        {
          "title": {"text": "(b)", "dx": 14},
          "width": 231, "height": 186,
          "resolve": {"axis": {"x": "independent", "y": "independent"}},
          "layer": [
            {
              "data": {"name": "curves"},
              "transform": [{"filter": "datum.p == 'b'"}],
              "mark": {"type": "line", "clip": true, "strokeWidth": 2},
              "encoding": {
                "x": {"field": "t", "type": "quantitative", "scale": {"domain": [0, 100], "nice": false}, "axis": {"orient": "bottom", "values": [0, 20, 40, 60, 80, 100], "title": "t, ps"}},
                "y": {"field": "P", "type": "quantitative", "scale": {"type": "log", "domain": [0.1, 1], "nice": false}, "axis": {"orient": "left", "ticks": false, "labelPadding": 4, "values": [0.1, 1], "labelExpr": "datum.value == 1 ? '1' : '0.1'", "title": "P₂", "titleFontStyle": "italic"}},
                "color": {"field": "T", "type": "nominal", "scale": {"domain": ["283K", "300K", "323K", "343K", "363K"], "range": ["#000000", "#ff0000", "#66ee11", "#2b5ce8", "#aa44ee"]}, "legend": {"legendX": 109, "legendY": 50, "symbolType": "M-2,0L2,0", "symbolSize": 144, "symbolStrokeWidth": 2, "labelOffset": 8, "labelFontSize": 10, "labelExpr": "datum.label + ' n = 4, terminal'"}},
                "strokeDash": {"field": "s", "type": "nominal", "scale": {"domain": ["solid", "dashed"], "range": [[1, 0], [6, 3]]}, "legend": null}
              }
            },
            {
              "data": {"name": "curves"},
              "transform": [{"filter": "datum.p == 'b' && datum.s == 'dashed'"}],
              "mark": {"type": "line", "clip": true, "strokeWidth": 6, "strokeCap": "round", "strokeDash": [0.1, 17]},
              "encoding": {
                "x": {"field": "t", "type": "quantitative", "axis": {"orient": "top", "values": [0, 20, 40, 60, 80, 100], "labels": false, "title": null}},
                "y": {"field": "P", "type": "quantitative", "axis": {"orient": "right", "values": [0.1, 0.2, 0.3, 0.4, 0.5, 0.6, 0.7, 0.8, 0.9, 1], "labels": false, "title": null}},
                "color": {"field": "T", "type": "nominal", "legend": null}
              }
            },
            {
              "data": {"name": "annMain"}, "transform": [{"filter": "datum.p == 'b'"}],
              "mark": {"type": "text", "fontSize": 10},
              "encoding": {"x": {"field": "t", "type": "quantitative", "axis": null}, "y": {"field": "P", "type": "quantitative", "axis": null}, "text": {"field": "txt"}}
            },
            {
              "data": {"name": "annR"}, "transform": [{"filter": "datum.p == 'b'"}],
              "mark": {"type": "text", "fontSize": 10, "fontStyle": "italic", "text": "r"},
              "encoding": {"x": {"field": "t", "type": "quantitative", "axis": null}, "y": {"field": "P", "type": "quantitative", "axis": null}}
            },
            {
              "data": {"name": "annSub"}, "transform": [{"filter": "datum.p == 'b'"}],
              "mark": {"type": "text", "fontSize": 7, "dy": 3},
              "encoding": {"x": {"field": "t", "type": "quantitative", "axis": null}, "y": {"field": "P", "type": "quantitative", "axis": null}, "text": {"field": "txt"}}
            }
          ]
        }
      ]
    },
    {
      "spacing": 42,
      "resolve": {"scale": {"color": "independent", "strokeDash": "independent"}, "legend": {"color": "independent"}},
      "hconcat": [
        {
          "title": {"text": "(c)", "dx": -16},
          "width": 231, "height": 186,
          "resolve": {"axis": {"x": "independent", "y": "independent"}},
          "layer": [
            {
              "data": {"name": "curves"},
              "transform": [{"filter": "datum.p == 'c'"}],
              "mark": {"type": "line", "clip": true, "strokeWidth": 2},
              "encoding": {
                "x": {"field": "t", "type": "quantitative", "scale": {"domain": [0, 500], "nice": false}, "axis": {"orient": "bottom", "values": [0, 100, 200, 300, 400, 500], "title": "t, ps"}},
                "y": {"field": "P", "type": "quantitative", "scale": {"type": "log", "domain": [0.1, 1], "nice": false}, "axis": {"orient": "left", "ticks": false, "labelPadding": 4, "values": [0.1, 1], "labelExpr": "datum.value == 1 ? '1' : '0.1'", "title": "P₂", "titleFontStyle": "italic"}},
                "color": {"field": "T", "type": "nominal", "scale": {"domain": ["283K", "300K", "323K", "343K", "363K"], "range": ["#000000", "#ff0000", "#66ee11", "#2b5ce8", "#aa44ee"]}, "legend": {"legendX": 135, "legendY": 58, "symbolType": "M-2,0L2,0", "symbolSize": 94, "symbolStrokeWidth": 2, "labelOffset": 7, "labelFontSize": 8.7, "labelExpr": "datum.label + ' n = 2, inner'"}},
                "strokeDash": {"field": "s", "type": "nominal", "scale": {"domain": ["solid", "dashed"], "range": [[1, 0], [6, 3]]}, "legend": null}
              }
            },
            {
              "data": {"name": "curves"},
              "transform": [{"filter": "datum.p == 'c' && datum.s == 'dashed'"}],
              "mark": {"type": "line", "clip": true, "strokeWidth": 6, "strokeCap": "round", "strokeDash": [0.1, 17]},
              "encoding": {
                "x": {"field": "t", "type": "quantitative", "axis": {"orient": "top", "values": [0, 100, 200, 300, 400, 500], "labels": false, "title": null}},
                "y": {"field": "P", "type": "quantitative", "axis": {"orient": "right", "values": [0.1, 0.2, 0.3, 0.4, 0.5, 0.6, 0.7, 0.8, 0.9, 1], "labels": false, "title": null}},
                "color": {"field": "T", "type": "nominal", "legend": null}
              }
            },
            {
              "data": {"name": "annMain"}, "transform": [{"filter": "datum.p == 'c'"}],
              "mark": {"type": "text", "fontSize": 10},
              "encoding": {"x": {"field": "t", "type": "quantitative", "axis": null}, "y": {"field": "P", "type": "quantitative", "axis": null}, "text": {"field": "txt"}}
            },
            {
              "data": {"name": "annR"}, "transform": [{"filter": "datum.p == 'c'"}],
              "mark": {"type": "text", "fontSize": 10, "fontStyle": "italic", "text": "r"},
              "encoding": {"x": {"field": "t", "type": "quantitative", "axis": null}, "y": {"field": "P", "type": "quantitative", "axis": null}}
            },
            {
              "data": {"name": "annSub"}, "transform": [{"filter": "datum.p == 'c'"}],
              "mark": {"type": "text", "fontSize": 7, "dy": 3},
              "encoding": {"x": {"field": "t", "type": "quantitative", "axis": null}, "y": {"field": "P", "type": "quantitative", "axis": null}, "text": {"field": "txt"}}
            }
          ]
        },
        {
          "title": {"text": "(d)", "dx": 14},
          "width": 231, "height": 186,
          "resolve": {"axis": {"x": "independent", "y": "independent"}},
          "layer": [
            {
              "data": {"name": "curves"},
              "transform": [{"filter": "datum.p == 'd'"}],
              "mark": {"type": "line", "clip": true, "strokeWidth": 1.2},
              "encoding": {
                "x": {"field": "t", "type": "quantitative", "scale": {"domain": [0, 500], "nice": false}, "axis": {"orient": "bottom", "values": [0, 100, 200, 300, 400, 500], "title": "t, ps"}},
                "y": {"field": "P", "type": "quantitative", "scale": {"type": "log", "domain": [0.1, 1], "nice": false}, "axis": {"orient": "left", "ticks": false, "labelPadding": 4, "values": [0.1, 1], "labelExpr": "datum.value == 1 ? '1' : '0.1'", "title": "P₂", "titleFontStyle": "italic"}},
                "color": {"field": "T", "type": "nominal", "scale": {"domain": ["283K", "300K", "323K", "343K", "363K"], "range": ["#000000", "#ff0000", "#66ee11", "#2b5ce8", "#aa44ee"]}, "legend": {"legendX": 117, "legendY": 4, "symbolType": "M-2.4,0L2.4,0", "symbolSize": 144, "symbolStrokeWidth": 1, "labelOffset": 11.5, "labelFontSize": 10.6, "labelExpr": "datum.label + ' n = 4, inner'"}},
                "strokeDash": {"field": "s", "type": "nominal", "scale": {"domain": ["solid", "dashed"], "range": [[1, 0], [5, 3]]}, "legend": null}
              }
            },
            {
              "data": {"name": "curves"},
              "transform": [{"filter": "datum.p == 'd' && datum.s == 'dashed'"}],
              "mark": {"type": "line", "clip": true, "strokeWidth": 6, "strokeCap": "round", "strokeDash": [0.1, 18]},
              "encoding": {
                "x": {"field": "t", "type": "quantitative", "axis": {"orient": "top", "values": [0, 100, 200, 300, 400, 500], "labels": false, "title": null}},
                "y": {"field": "P", "type": "quantitative", "axis": {"orient": "right", "values": [0.1, 0.2, 0.3, 0.4, 0.5, 0.6, 0.7, 0.8, 0.9, 1], "labels": false, "title": null}},
                "color": {"field": "T", "type": "nominal", "legend": null}
              }
            },
            {
              "data": {"name": "annMain"}, "transform": [{"filter": "datum.p == 'd'"}],
              "mark": {"type": "text", "fontSize": 10},
              "encoding": {"x": {"field": "t", "type": "quantitative", "axis": null}, "y": {"field": "P", "type": "quantitative", "axis": null}, "text": {"field": "txt"}}
            },
            {
              "data": {"name": "annR"}, "transform": [{"filter": "datum.p == 'd'"}],
              "mark": {"type": "text", "fontSize": 10, "fontStyle": "italic", "text": "r"},
              "encoding": {"x": {"field": "t", "type": "quantitative", "axis": null}, "y": {"field": "P", "type": "quantitative", "axis": null}}
            },
            {
              "data": {"name": "annSub"}, "transform": [{"filter": "datum.p == 'd'"}],
              "mark": {"type": "text", "fontSize": 7, "dy": 3},
              "encoding": {"x": {"field": "t", "type": "quantitative", "axis": null}, "y": {"field": "P", "type": "quantitative", "axis": null}, "text": {"field": "txt"}}
            }
          ]
        }
      ]
    }
  ]
}
